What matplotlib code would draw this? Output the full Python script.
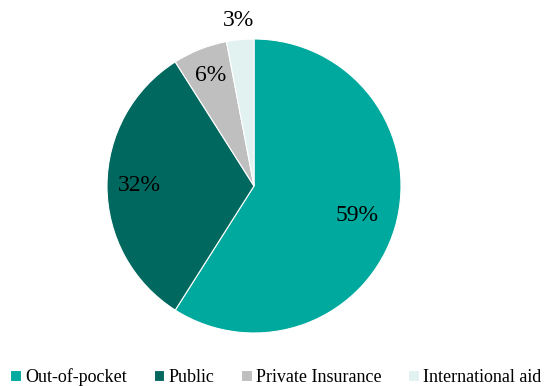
import matplotlib.pyplot as plt
import numpy as np

# financing sources for health spending
categories = ['Out-of-pocket', 'Public', 'Private Insurance', 'International aid']
shares = [59, 32, 6, 3]
colors = ['#00A99D', '#00685E', '#BFBFBF', '#E2F2F1']
label_dist = [0.73, 0.78, 0.81, 1.13]

plt.rcParams['font.family'] = ['Liberation Serif', 'DejaVu Serif']

fig = plt.figure(figsize=(5.47, 3.86), dpi=100)
# axes placed so the pie sits centred at (254, 186) px with radius ~147 px
r_px = 147
cx, cy = 254, 386 - 186
ax = fig.add_axes([(cx - r_px) / 547, (cy - r_px) / 386, 2 * r_px / 547, 2 * r_px / 386])

wedges, _ = ax.pie(shares, colors=colors, startangle=90, counterclock=False,
                   wedgeprops=dict(edgecolor='white', linewidth=0.8))
ax.set_xlim(-1, 1)
ax.set_ylim(-1, 1)
ax.set_aspect('equal')

for w, val, d in zip(wedges, shares, label_dist):
    mid = np.deg2rad((w.theta1 + w.theta2) / 2)
    ax.text(d * np.cos(mid), d * np.sin(mid), f'{val}%', ha='center', va='center',
            fontsize=17, color='black', clip_on=False)

ax.legend(wedges, categories, loc='center', bbox_to_anchor=(276 / 547, 9 / 386),
          bbox_transform=fig.transFigure, ncol=4, frameon=False, fontsize=13,
          borderpad=0, borderaxespad=0,
          handlelength=0.6, handleheight=0.6, handletextpad=0.25, columnspacing=1.45)

fig.savefig('out.png', dpi=100)
